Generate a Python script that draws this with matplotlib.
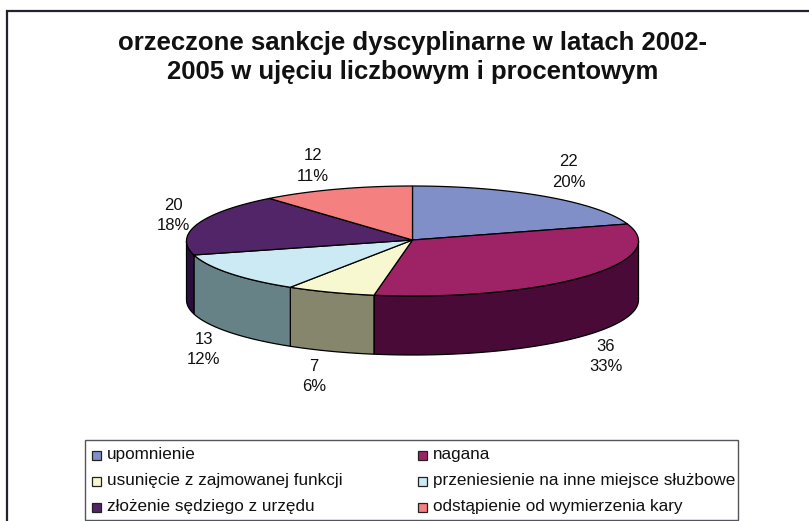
import matplotlib
matplotlib.use('Agg')
import matplotlib.pyplot as plt
from matplotlib.patches import Rectangle
import numpy as np

plt.rcParams['font.family'] = ['Liberation Sans', 'DejaVu Sans']

# ── Data ───────────────────────────────────────────────────────────
categories = [
    'upomnienie',
    'nagana',
    'usunięcie z zajmowanej funkcji',
    'przeniesienie na inne miejsce służbowe',
    'złożenie sędziego z urzędu',
    'odstąpienie od wymierzenia kary',
]
values = [22, 36, 7, 13, 20, 12]
percents = ['20%', '33%', '6%', '12%', '18%', '11%']
title = 'orzeczone sankcje dyscyplinarne w latach 2002-\n2005 w ujęciu liczbowym i procentowym'

# ── Config ─────────────────────────────────────────────────────────
W, H = 809, 521
COL_TOP = ['#808FC8', '#9E2366', '#F8F8D0', '#CCEAF3', '#522468', '#F58080']
COL_SIDE = ['#404864', '#4A0A38', '#85866C', '#668286', '#290F3E', '#7A4040']
CX, CY = 412.5, 241      # centre of the top ellipse, pixels
RX, RY = 226, 55
DEPTH = 59
LABEL_POS = [(569, 172), (606, 356.5), (314, 376.5), (204, 349.5), (173, 215.5), (313, 166)]
TEXT = '#111111'


def rim(t):
    # t in degrees, clockwise from the top of the pie
    r = np.radians(t)
    return CX + RX * np.sin(r), CY - RY * np.cos(r)


fig = plt.figure(figsize=(W / 100, H / 100), dpi=100, facecolor='white')
ax = fig.add_axes([0, 0, 1, 1])
ax.set_xlim(0, W)
ax.set_ylim(H, 0)
ax.axis('off')

# ── Chart frame (right and bottom edges are cropped off) ───────────
ax.plot([7, 7, W], [H, 11, 11], color='#22222E', lw=1.6, solid_joinstyle='miter')

# ── Slice edges from the values ────────────────────────────────────
edges = np.cumsum([0] + values) / sum(values) * 360

# ── Side wall: only the front half of the rim is visible ───────────
for i in range(len(values)):
    a, b = max(edges[i], 90), min(edges[i + 1], 270)
    if a >= b:
        continue
    t = np.linspace(a, b, 80)
    x, y = rim(t)
    ax.fill(np.r_[x, x[::-1]], np.r_[y, y[::-1] + DEPTH],
            facecolor=COL_SIDE[i], edgecolor='black', lw=0.9, zorder=2)

# ── Top face ───────────────────────────────────────────────────────
for i in range(len(values)):
    t = np.linspace(edges[i], edges[i + 1], 120)
    x, y = rim(t)
    ax.fill(np.r_[CX, x], np.r_[CY - 1, y],
            facecolor=COL_TOP[i], edgecolor='black', lw=0.9, zorder=3)

# ── Data labels ────────────────────────────────────────────────────
for v, p, (lx, ly) in zip(values, percents, LABEL_POS):
    ax.text(lx, ly, f'{v}\n{p}', ha='center', va='center', fontsize=12,
            color=TEXT, linespacing=1.47, zorder=5)

# ── Title ──────────────────────────────────────────────────────────
ax.text(412.5, 57.5, title, ha='center', va='center', fontsize=18.5,
        fontweight='bold', color=TEXT, linespacing=1.3)

# ── Legend (drawn by hand to keep the Excel box) ───────────────────
ax.add_patch(Rectangle((85, 440), 653, 80, facecolor='white',
                       edgecolor='#55555F', lw=1.0, zorder=4))
col_x = [92, 418]
row_y = [455, 481, 507]
for i, cat in enumerate(categories):
    sx, sy = col_x[i % 2], row_y[i // 2]
    ax.add_patch(Rectangle((sx, sy - 4.5), 9, 9, facecolor=COL_TOP[i],
                           edgecolor='#222222', lw=0.9, zorder=5))
    ax.text(sx + 15, sy, cat, ha='left', va='center', fontsize=12.3,
            color=TEXT, zorder=5)

fig.savefig('out.png', dpi=100, facecolor='white')
plt.close(fig)
